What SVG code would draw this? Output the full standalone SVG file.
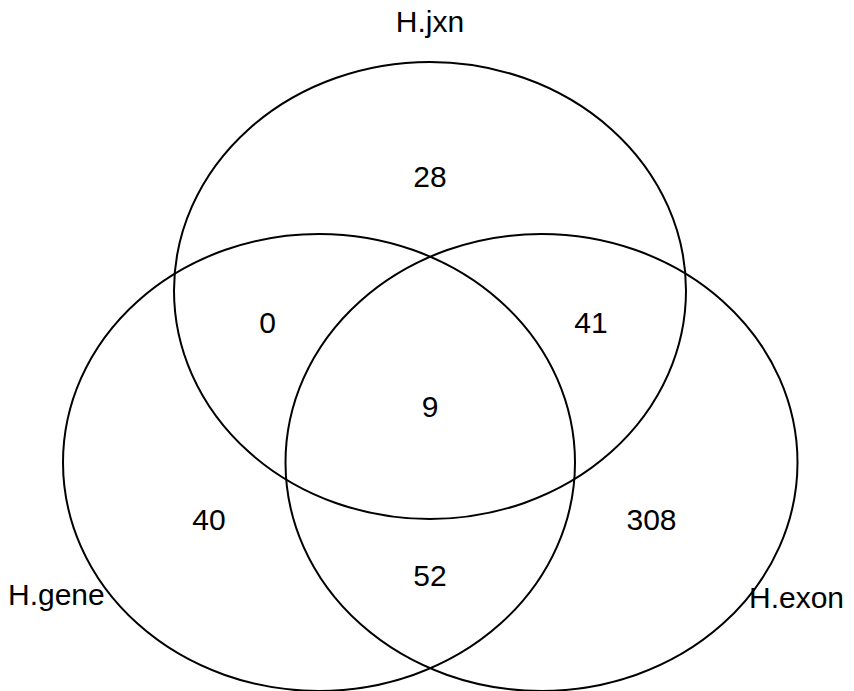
<svg xmlns="http://www.w3.org/2000/svg" width="854" height="691" viewBox="0 0 854 691">
<style>
.set{fill:none;stroke:#000;stroke-width:2}
.lbl{font-family:"Liberation Sans",Arial,sans-serif;font-size:30px;fill:#000;text-anchor:middle}
.nm{font-family:"Liberation Sans",Arial,sans-serif;font-size:30px;fill:#000}
</style>
<rect width="854" height="691" fill="#fff"/>
<g id="set-jxn"><ellipse class="set" cx="430" cy="290.5" rx="256" ry="228.5"/></g>
<g id="set-gene"><ellipse class="set" cx="319" cy="462.5" rx="256" ry="228.5"/></g>
<g id="set-exon"><ellipse class="set" cx="541.5" cy="462.5" rx="256" ry="228.5"/></g>
<g id="counts">
<text class="lbl" x="430" y="187">28</text>
<text class="lbl" x="267.5" y="333">0</text>
<text class="lbl" x="591" y="333">41</text>
<text class="lbl" x="430" y="417">9</text>
<text class="lbl" x="209" y="530">40</text>
<text class="lbl" x="651.5" y="530">308</text>
<text class="lbl" x="430" y="586">52</text>
</g>
<g id="names">
<text class="lbl" x="430" y="32">H.jxn</text>
<text class="nm" x="8" y="605">H.gene</text>
<text class="nm" x="749" y="608">H.exon</text>
</g>
</svg>
